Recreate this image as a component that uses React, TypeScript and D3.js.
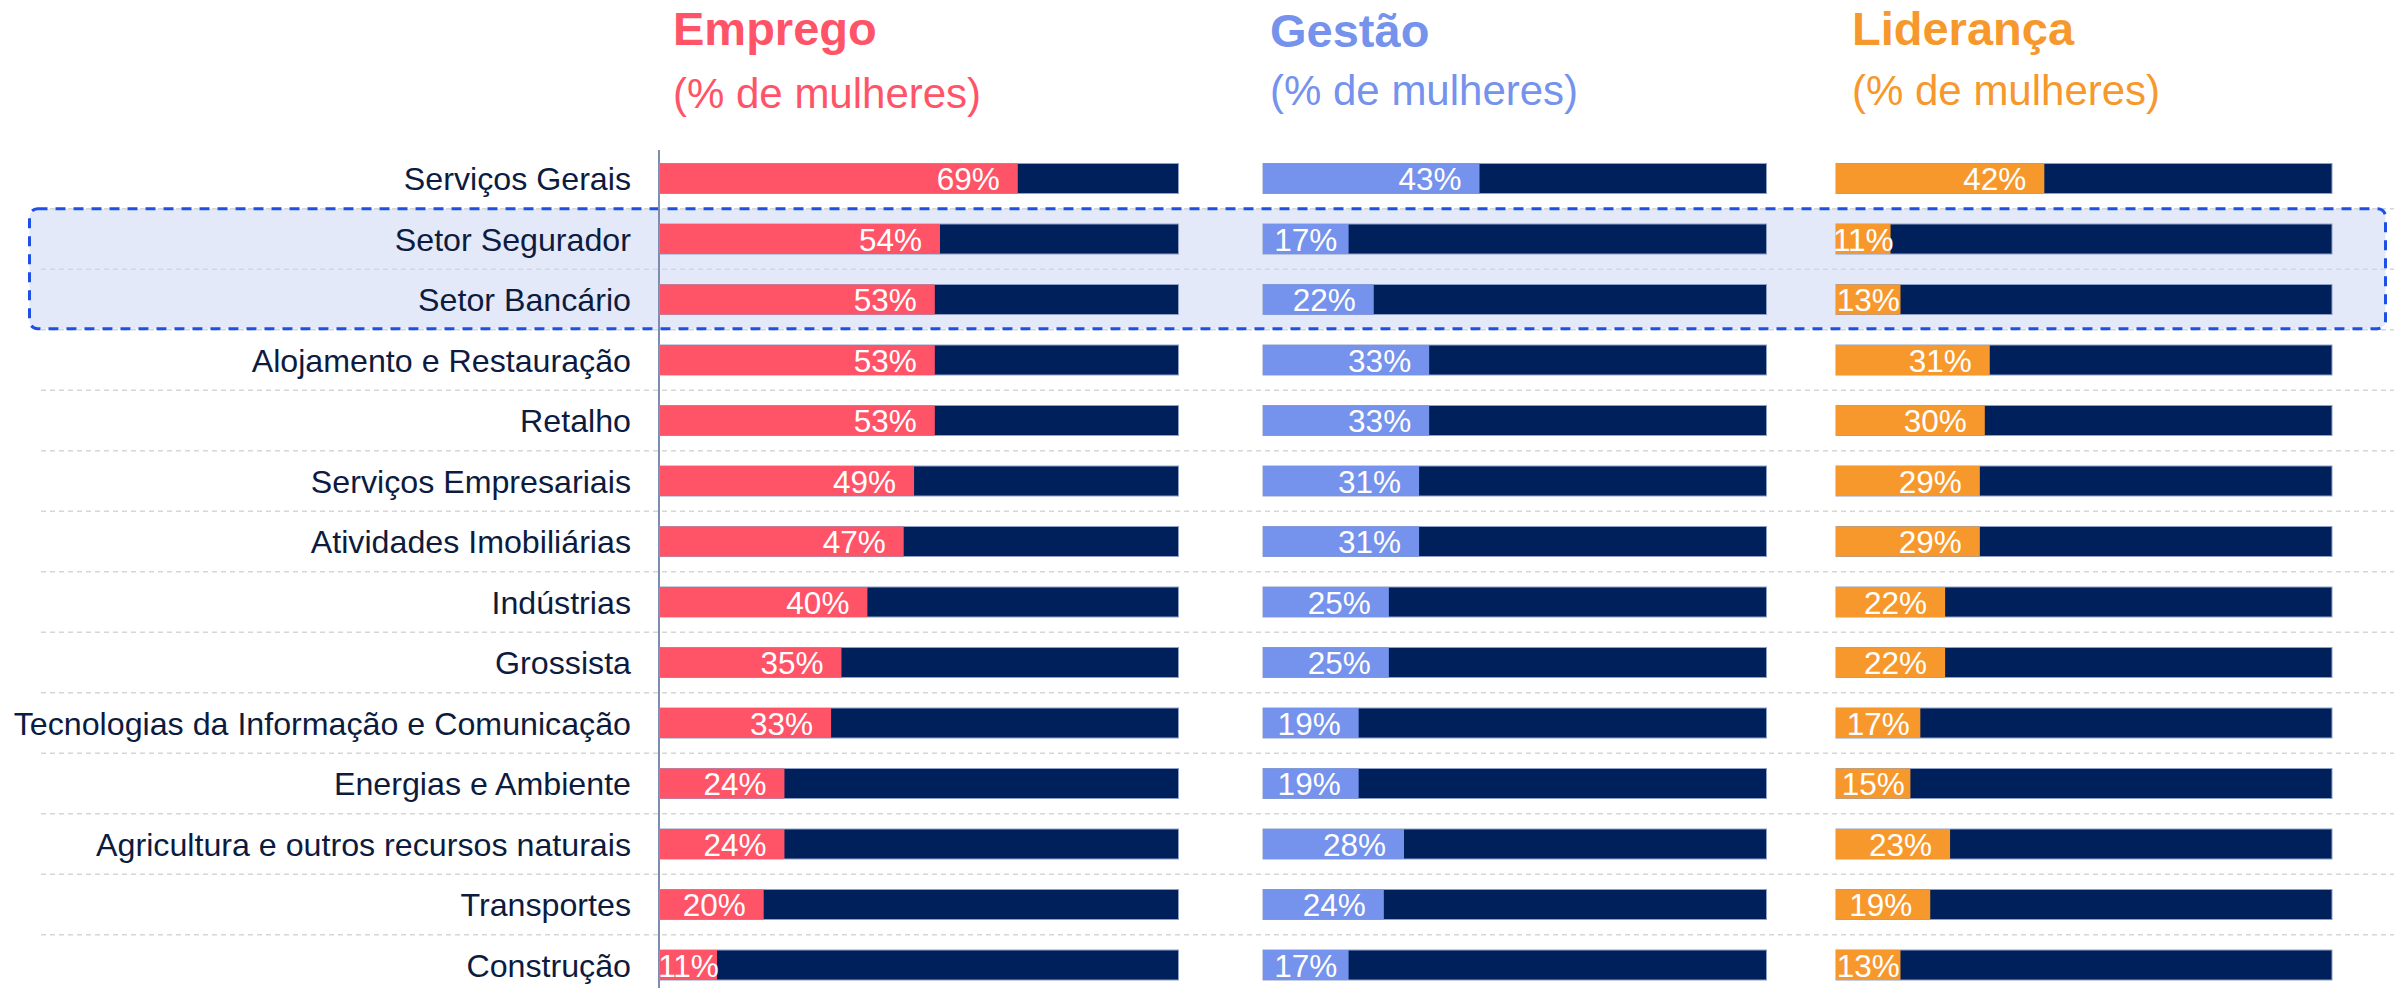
import React from "react";
import * as d3 from "d3";

const categories = [
  "Serviços Gerais",
  "Setor Segurador",
  "Setor Bancário",
  "Alojamento e Restauração",
  "Retalho",
  "Serviços Empresariais",
  "Atividades Imobiliárias",
  "Indústrias",
  "Grossista",
  "Tecnologias da Informação e Comunicação",
  "Energias e Ambiente",
  "Agricultura e outros recursos naturais",
  "Transportes",
  "Construção",
];

const emprego = [69, 54, 53, 53, 53, 49, 47, 40, 35, 33, 24, 24, 20, 11];
const gestao = [43, 17, 22, 33, 33, 31, 31, 25, 25, 19, 19, 28, 24, 17];
const lideranca = [42, 11, 13, 31, 30, 29, 29, 22, 22, 17, 15, 23, 19, 13];

const highlighted = ["Setor Segurador", "Setor Bancário"];

const W = 2394;
const H = 988;
const FONT = "'Liberation Sans', Arial, sans-serif";
const NAVY = "#00205c";

const panels = [
  { title: "Emprego", values: emprego, color: "#ff5468", range: [660, 1178.5], tx: 673, ty: 45, sy: 108 },
  { title: "Gestão", values: gestao, color: "#7592ec", range: [1263, 1766.5], tx: 1270, ty: 47, sy: 105 },
  { title: "Liderança", values: lideranca, color: "#f7982c", range: [1836, 2332], tx: 1852, ty: 45, sy: 105 },
];

const y = d3.scalePoint<string>().domain(categories).range([178.5, 965]);
const step = y.step();
const barH = 30;
const labelSize = 31.5;
const labelW = 63;
const fmt = (v: number) => `${v}%`;

export default function App() {
  const boxTop = (y(highlighted[0]) as number) - step / 2;
  const boxBottom = (y(highlighted[highlighted.length - 1]) as number) + step / 2 - 1;

  return (
    <svg
      width={W}
      height={H}
      style={{ position: "absolute", left: 0, top: 0, background: "#fff" }}
      fontFamily={FONT}
    >
      {/* highlight box fill */}
      <rect x={29.5} y={boxTop} width={2356} height={boxBottom - boxTop} rx={8} fill="#e3e9f9" />

      {/* row separators */}
      {categories.slice(0, -1).map((c) => (
        <line
          key={c}
          x1={41}
          x2={W}
          y1={(y(c) as number) + step / 2}
          y2={(y(c) as number) + step / 2}
          stroke="#d6d6d6"
          strokeWidth={1.5}
          strokeDasharray="5 4"
        />
      ))}

      <rect
        x={29.5}
        y={boxTop}
        width={2356}
        height={boxBottom - boxTop}
        rx={8}
        fill="none"
        stroke="#1f50e6"
        strokeWidth={3}
        strokeDasharray="10 8"
      />

      {/* axis */}
      <line x1={659} x2={659} y1={150} y2={H} stroke="#7d8db0" strokeWidth={2} />

      {/* category labels */}
      {categories.map((c) => (
        <text
          key={c}
          x={631}
          y={(y(c) as number) + 11.5}
          textAnchor="end"
          fontSize={32.2}
          fill="#0d1b3e"
        >
          {c}
        </text>
      ))}

      {panels.map((p) => {
        const x = d3.scaleLinear().domain([0, 100]).range(p.range);
        return (
          <g key={p.title}>
            <text x={p.tx} y={p.ty} fontSize={47} fontWeight="bold" fill={p.color}>
              {p.title}
            </text>
            <text x={p.tx} y={p.sy} fontSize={42} fill={p.color}>
              (% de mulheres)
            </text>
            {categories.map((c, i) => {
              const v = p.values[i];
              const cy = y(c) as number;
              const x0 = x(0);
              const xv = x(v);
              const bw = xv - x0;
              const fits = bw >= labelW + 26;
              return (
                <g key={c}>
                  <rect
                    x={x0}
                    y={cy - barH / 2}
                    width={x(100) - x0}
                    height={barH}
                    fill={NAVY}
                    stroke="#8fa0c8"
                    strokeWidth={1}
                  />
                  <rect x={x0} y={cy - barH / 2} width={bw} height={barH} fill={p.color} />
                  <text
                    x={fits ? xv - 18 : x0 + bw / 2}
                    y={cy + 11.5}
                    textAnchor={fits ? "end" : "middle"}
                    fontSize={labelSize}
                    fill="#fff"
                  >
                    {fmt(v)}
                  </text>
                </g>
              );
            })}
          </g>
        );
      })}
    </svg>
  );
}
